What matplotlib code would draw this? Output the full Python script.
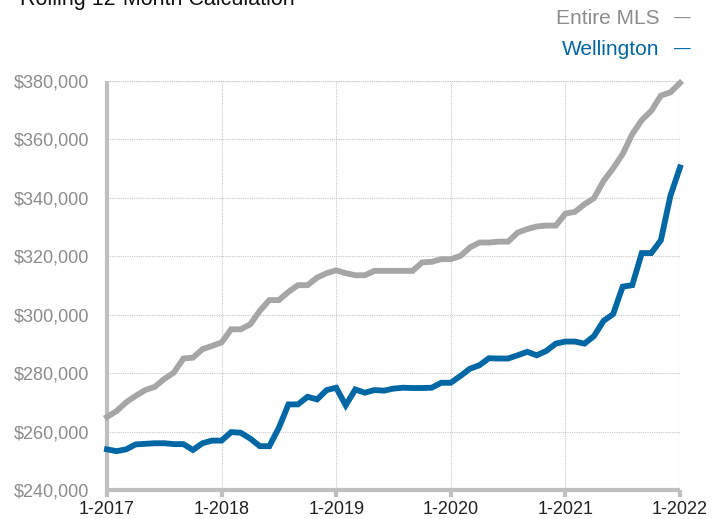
import numpy as np
import pandas as pd
import matplotlib
matplotlib.use("Agg")
import matplotlib.pyplot as plt

plt.rcParams['font.family'] = ['Liberation Sans', 'DejaVu Sans']

# monthly rolling 12-month median price, 1-2017 .. 1-2022
months = pd.date_range("2017-01-01", "2022-01-01", freq="MS")
entire_mls = [265000, 267000, 270000, 272200, 274200, 275300, 278000, 280200, 285000, 285300,
              288200, 289300, 290500, 295000, 295000, 296700, 301300, 305000, 305000, 307800,
              310100, 310100, 312700, 314200, 315200, 314200, 313500, 313500, 315000, 315000,
              315000, 315000, 315000, 317900, 318100, 319000, 319000, 320100, 323000, 324700,
              324700, 325000, 325000, 328100, 329300, 330200, 330500, 330500, 334600, 335200,
              337800, 339900, 345800, 350100, 355000, 361800, 366600, 369800, 375000, 376100,
              379300]
wellington = [253900, 253300, 253900, 255600, 255800, 256000, 256000, 255700, 255700, 253700,
              256000, 256900, 256900, 259800, 259600, 257600, 255000, 255000, 261300, 269300,
              269300, 271900, 271000, 274200, 275000, 269000, 274400, 273300, 274200, 274000,
              274700, 275000, 274900, 274900, 275000, 276700, 276700, 279000, 281500, 282700,
              285100, 285000, 285000, 286100, 287300, 286100, 287600, 290100, 290800, 290800,
              290100, 292700, 297900, 300200, 309600, 310100, 321100, 321100, 325500, 340700,
              350400]
year_ticks = ["1-2017", "1-2018", "1-2019", "1-2020", "1-2021", "1-2022"]
y_ticks = [240000, 260000, 280000, 300000, 320000, 340000, 360000, 380000]

gray = "#a6a6a6"
blue = "#0067a5"
axis_gray = "#bfbfbf"

fig = plt.figure(figsize=(7.21, 5.19), dpi=100)
ax = fig.add_axes([0.1484, 0.0559, 0.7947, 0.7881])

x = np.arange(len(months))
ax.plot(x, entire_mls, color=gray, lw=4.2, solid_joinstyle="miter", clip_on=False, zorder=3)
ax.plot(x, wellington, color=blue, lw=4.2, solid_joinstyle="miter", clip_on=False, zorder=4)

ax.set_xlim(0, len(months) - 1)
ax.set_ylim(240000, 380000)
ax.set_xticks(np.arange(0, len(months), 12))
ax.set_xticklabels(year_ticks)
ax.set_yticks(y_ticks)
ax.set_yticklabels(["${:,.0f}".format(v) for v in y_ticks])

ax.grid(True, color="#c8c8c8", linestyle=(0, (1, 1)), linewidth=0.8)
ax.set_axisbelow(True)

for side in ["top", "right"]:
    ax.spines[side].set_visible(False)
for side in ["left", "bottom"]:
    ax.spines[side].set_color(axis_gray)
    ax.spines[side].set_linewidth(3)
    ax.spines[side].set_capstyle("butt")

ax.tick_params(axis="y", length=0, pad=13, labelsize=13, labelcolor="#8c8c8c")
ax.tick_params(axis="x", length=5, width=3, color=axis_gray, pad=3,
               labelsize=13, labelcolor="#222222")

# top border drawn as a dotted grid line, right edge too
ax.axhline(380000, color="#c8c8c8", linestyle=(0, (1, 1)), linewidth=0.8, zorder=1)
ax.axvline(len(months) - 1, color="#c8c8c8", linestyle=(0, (1, 1)), linewidth=0.8, zorder=1)

fig.text(0.028, 1.0, "Rolling 12-Month Calculation", fontsize=15.5, color="#111111",
         ha="left", va="center")

fig.text(0.915, 0.965, "Entire MLS", fontsize=15, color="#8c8c8c", ha="right", va="center")
fig.text(0.915, 0.905, "Wellington", fontsize=15, color=blue, ha="right", va="center")
fig.text(0.935, 0.965, "\u2014", fontsize=12, color="#8c8c8c", ha="left", va="center")
fig.text(0.935, 0.905, "\u2014", fontsize=12, color=blue, ha="left", va="center")

fig.savefig("out.png", dpi=100)
